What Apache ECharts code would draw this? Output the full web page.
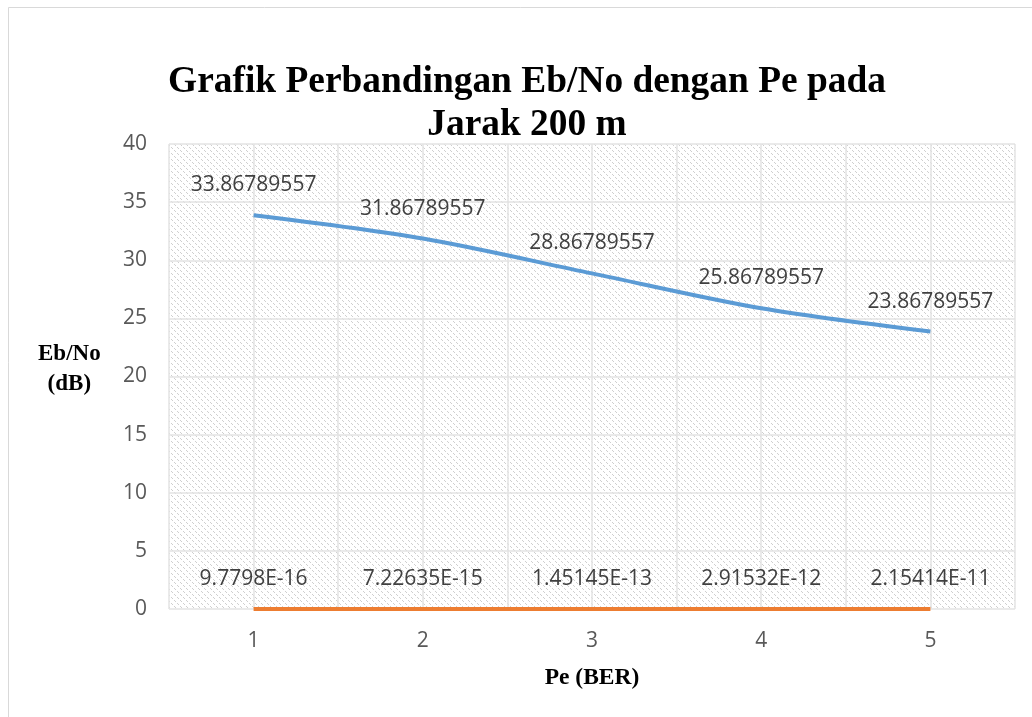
<!DOCTYPE html>
<html>
<head>
<meta charset="utf-8">
<script src="https://cdn.jsdelivr.net/npm/echarts@6/dist/echarts.min.js"></script>
<style>
  html, body { margin: 0; padding: 0; background: #fff; }
  #chart { width: 1032px; height: 717px; }
</style>
</head>
<body>
<div id="chart"></div>
<script>
const categories = ['1', '2', '3', '4', '5']
const ebnoValues = [33.86789557, 31.86789557, 28.86789557, 25.86789557, 23.86789557]
const peValues = [9.7798e-16, 7.22635e-15, 1.45145e-13, 2.91532e-12, 2.15414e-11]
const peLabels = ['9.7798E-16', '7.22635E-15', '1.45145E-13', '2.91532E-12', '2.15414E-11']
const yTicks = [0, 5, 10, 15, 20, 25, 30, 35, 40]
// half-step slots, only used to draw the vertical gridlines
const gridSlots = ['a', 'b', 'c', 'd', 'e', 'f', 'g', 'h', 'i', 'j', 'k']

// diagonal hatch for the plot area
const makeHatch = () => {
  const c = document.createElement('canvas')
  c.width = 6
  c.height = 6
  const ctx = c.getContext('2d')
  ctx.fillStyle = '#ffffff'
  ctx.fillRect(0, 0, 6, 6)
  ctx.fillStyle = '#cfcfcf'
  for (let i = 0; i < 6; i++) {
    if (i % 3 !== 2) ctx.fillRect(i, i, 1, 1)
  }
  return c
}

const chart = echarts.init(document.getElementById('chart'))

const labelFont = {
  fontFamily: 'Open Sans, Liberation Sans, sans-serif',
  fontSize: 21,
  color: '#404040'
}

const hiddenPoint = { color: 'rgba(0,0,0,0)', borderWidth: 0 }

const option = {
  animation: false,
  backgroundColor: '#ffffff',
  title: {
    text: 'Grafik Perbandingan Eb/No dengan Pe pada\nJarak 200 m',
    left: 522,
    top: 56,
    textAlign: 'center',
    textStyle: {
      fontFamily: 'Liberation Serif, Times New Roman, serif',
      fontWeight: 'bold',
      fontSize: 37.4,
      lineHeight: 43,
      color: '#000000'
    }
  },
  graphic: [
    {
      type: 'rect',
      shape: { x: 8.5, y: 7.5, width: 1030, height: 720 },
      style: { fill: 'none', stroke: '#d9d9d9', lineWidth: 1 },
      silent: true
    },
    {
      type: 'text',
      left: 38,
      top: 339,
      style: {
        text: 'Eb/No\n(dB)',
        textAlign: 'center',
        font: 'bold 23px "Liberation Serif", serif',
        lineHeight: 30,
        fill: '#000000'
      }
    }
  ],
  grid: {
    left: 169,
    right: 17,
    top: 144,
    bottom: 108,
    show: true,
    borderWidth: 0,
    backgroundColor: { image: makeHatch(), repeat: 'repeat' }
  },
  xAxis: [
    {
      type: 'category',
      data: categories,
      boundaryGap: true,
      name: 'Pe (BER)',
      nameLocation: 'middle',
      nameGap: 57,
      nameTextStyle: {
        fontFamily: 'Liberation Serif, serif',
        fontWeight: 'bold',
        fontSize: 23.5,
        color: '#000000'
      },
      axisLine: { show: false },
      axisTick: { show: false },
      splitLine: { show: false },
      axisLabel: { ...labelFont, color: '#595959', margin: 22 }
    },
    {
      type: 'category',
      data: gridSlots,
      boundaryGap: false,
      show: true,
      position: 'bottom',
      axisLine: { show: false },
      axisTick: { show: false },
      axisLabel: { show: false },
      splitLine: { show: true, lineStyle: { color: '#e3e3e3', width: 1.5 } }
    }
  ],
  yAxis: {
    type: 'value',
    min: yTicks[0],
    max: yTicks[yTicks.length - 1],
    interval: 5,
    axisLine: { show: false },
    axisTick: { show: false },
    axisLabel: { ...labelFont, color: '#595959', margin: 22 },
    splitLine: { lineStyle: { color: '#e3e3e3', width: 1.5 } }
  },
  series: [
    {
      name: 'Eb/No',
      type: 'line',
      data: ebnoValues,
      smooth: 0.3,
      symbol: 'circle',
      symbolSize: 1,
      showSymbol: true,
      itemStyle: hiddenPoint,
      lineStyle: { color: '#5B9BD5', width: 4 },
      label: {
        show: true,
        position: 'top',
        distance: 19,
        ...labelFont,
        formatter: p => p.value.toFixed(8)
      }
    },
    {
      name: 'Pe',
      type: 'line',
      data: peValues,
      symbol: 'circle',
      symbolSize: 1,
      showSymbol: true,
      itemStyle: hiddenPoint,
      lineStyle: { color: '#ED7D31', width: 4 },
      label: {
        show: true,
        position: 'top',
        distance: 19,
        ...labelFont,
        formatter: p => peLabels[p.dataIndex]
      }
    }
  ]
}

chart.setOption(option)
</script>
</body>
</html>
